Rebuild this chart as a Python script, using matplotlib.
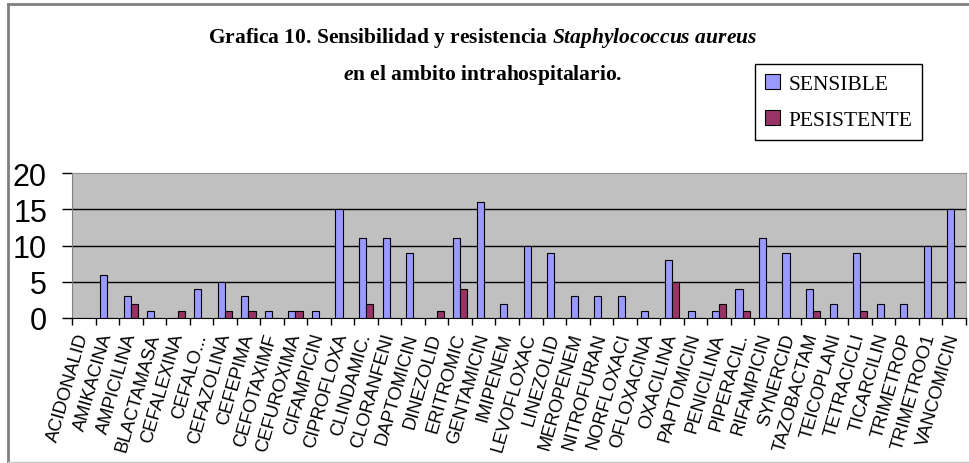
import matplotlib
matplotlib.use("Agg")
import matplotlib.pyplot as plt
import numpy as np
from matplotlib.lines import Line2D

######### data ##########

antibioticos = ["ACIDONALID", "AMIKACINA", "AMPICILINA", "BLACTAMASA", "CEFALEXINA",
                "CEFALO...", "CEFAZOLINA", "CEFEPIMA", "CEFOTAXIMF", "CEFUROXIMA",
                "CIFAMPICIN", "CIPROFLOXA", "CLINDAMIC.", "CLORANFENI", "DAPTOMICIN",
                "DINEZOLID", "ERITROMIC", "GENTAMICIN", "IMIPENEM", "LEVOFLOXAC",
                "LINEZOLID", "MEROPENEM", "NITROFURAN", "NORFLOXACI", "OFLOXACINA",
                "OXACILINA", "PAPTOMICIN", "PENICILINA", "PIPERACIL.", "RIFAMPICIN",
                "SYNERCID", "TAZOBACTAM", "TEICOPLANI", "TETRACICLI", "TICARCILIN",
                "TRIMETROP", "TRIMETROO1", "VANCOMICIN"]

sensible = [0, 6, 3, 1, 0, 4, 5, 3, 1, 1,
            1, 15, 11, 11, 9, 0, 11, 16, 2, 10,
            9, 3, 3, 3, 1, 8, 1, 1, 4, 11,
            9, 4, 2, 9, 2, 2, 10, 15]

resistente = [0, 0, 2, 0, 1, 0, 1, 1, 0, 1,
              0, 0, 2, 0, 0, 1, 4, 0, 0, 0,
              0, 0, 0, 0, 0, 5, 0, 2, 1, 0,
              0, 1, 0, 1, 0, 0, 0, 0]

yticks = [0, 5, 10, 15, 20]

######### plot ##########

plt.rcParams['mathtext.fontset'] = 'custom'
plt.rcParams['mathtext.rm'] = 'Liberation Serif:bold'
plt.rcParams['mathtext.it'] = 'Liberation Serif:italic:bold'

fig = plt.figure(figsize=(9.69, 4.64), dpi=100)
ax = fig.add_axes([72/969, 1 - 319/464, (966 - 72)/969, (319 - 174)/464])

x = np.arange(len(antibioticos))
w = 0.3
ax.bar(x - w/2, sensible, w, color='#9999FF', edgecolor='black', linewidth=0.8,
       label='SENSIBLE', zorder=3)
ax.bar(x + w/2, resistente, w, color='#993366', edgecolor='black', linewidth=0.8,
       label='PESISTENTE', zorder=3)

ax.set_facecolor('#C0C0C0')
ax.set_xlim(-0.5, len(antibioticos) - 0.5)
ax.set_ylim(0, 20)
for g in [5, 10, 15]:
    ax.axhline(g, color='black', linewidth=1.0, zorder=1)

ax.set_yticks(yticks)
ax.set_yticklabels([str(v) for v in yticks], fontsize=22, family='Liberation Sans')
ax.tick_params(axis='y', length=7, width=1, pad=11, direction='out')

ax.set_xticks(x)
ax.set_xticklabels(antibioticos, rotation=74, ha='right', va='center',
                   rotation_mode='anchor', fontsize=13.2, family='Liberation Sans')
ax.tick_params(axis='x', length=0, pad=11)
ax.set_xticks(np.arange(-0.5, len(antibioticos), 1.0), minor=True)
ax.tick_params(axis='x', which='minor', length=5, width=1, direction='out')

ax.spines['bottom'].set_color('black')
ax.spines['left'].set_color('#808080')
ax.spines['top'].set_color('#909090')
ax.spines['right'].set_color('#A0A0A0')

leg = ax.legend(loc='upper left', bbox_to_anchor=(755/969, 1 - 65/464),
                bbox_transform=fig.transFigure, fancybox=False, framealpha=1,
                edgecolor='black', prop={'family': 'Liberation Serif', 'size': 15.5},
                handlelength=0.7, handleheight=0.7, handletextpad=0.4,
                labelspacing=0.75, borderpad=0.45, borderaxespad=0)
leg.get_frame().set_linewidth(1.0)

fig.text(483/969, 1 - 43/464,
         r"Grafica 10. Sensibilidad y resistencia $\mathit{Staphylococcus\ aureus}$",
         ha='center', va='baseline', fontsize=15.5, family='Liberation Serif',
         fontweight='bold')
fig.text(483/969, 1 - 80/464, r"$\mathit{e}$n el ambito intrahospitalario.",
         ha='center', va='baseline', fontsize=15.5, family='Liberation Serif',
         fontweight='bold')

# chart frame
fig.add_artist(Line2D([8/969, 8/969], [0, 1 - 5/464], transform=fig.transFigure,
                      color='#808080', linewidth=2))
fig.add_artist(Line2D([8/969, 1], [1 - 5/464, 1 - 5/464], transform=fig.transFigure,
                      color='#808080', linewidth=2))
fig.add_artist(Line2D([8/969, 1], [1/464, 1/464], transform=fig.transFigure,
                      color='#C8C8C8', linewidth=1))

fig.savefig("out.png", dpi=100)
